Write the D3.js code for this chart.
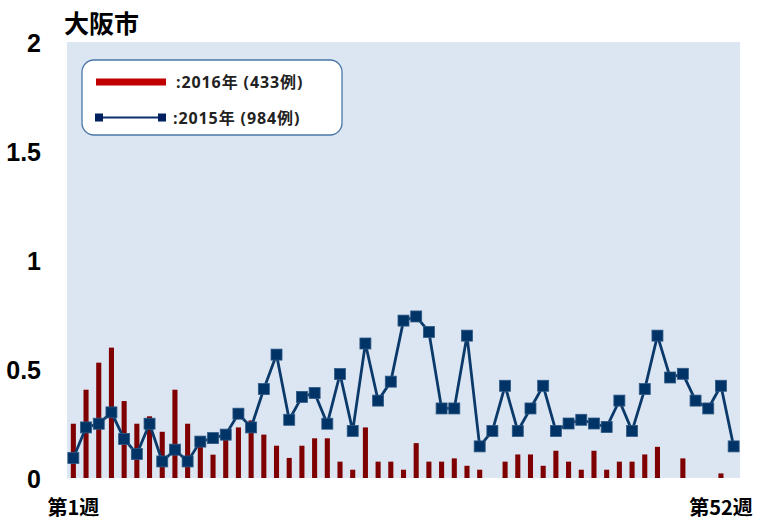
<!DOCTYPE html>
<html>
<head>
<meta charset="utf-8">
<script src="https://cdn.jsdelivr.net/npm/d3@7"></script>
<style>
  body { margin: 0; background: #fff; }
  svg { display: block; }
</style>
</head>
<body>
<svg id="chart"></svg>
<script>
const title = "大阪市";
const weeks = d3.range(1, 54);
const xLabels = {1: "第1週", 52: "第52週"};
const yTicks = [0, 0.5, 1, 1.5, 2];

// 2016 bars (week 1..53)
const cases2016 = [0.249, 0.405, 0.529, 0.598, 0.353, 0.249, 0.283, 0.212, 0.405, 0.249,
                   0.179, 0.107, 0.214, 0.232, 0.264, 0.199, 0.148, 0.092, 0.148, 0.182,
                   0.182, 0.075, 0.038, 0.232, 0.075, 0.075, 0.038, 0.160, 0.075, 0.075,
                   0.090, 0.056, 0.038, 0, 0.075, 0.108, 0.108, 0.056, 0.125, 0.075,
                   0.038, 0.125, 0.038, 0.075, 0.075, 0.108, 0.143, 0, 0.090, 0,
                   0, 0.021, 0];
// 2015 line
const cases2015 = [0.092, 0.232, 0.249, 0.301, 0.179, 0.110, 0.249, 0.076, 0.130, 0.076,
                   0.167, 0.183, 0.199, 0.295, 0.232, 0.408, 0.566, 0.267, 0.372, 0.390,
                   0.249, 0.477, 0.216, 0.617, 0.355, 0.442, 0.722, 0.741, 0.670, 0.319,
                   0.319, 0.653, 0.145, 0.216, 0.423, 0.216, 0.319, 0.423, 0.216, 0.250,
                   0.267, 0.250, 0.234, 0.355, 0.216, 0.408, 0.653, 0.461, 0.478, 0.355,
                   0.319, 0.423, 0.145];
const legendItems = [":2016年 (433例)", ":2015年 (984例)"];

const W = 758, H = 525;
const mLeft = 67, mRight = 740, mTop = 42, mBottom = 478;

const svg = d3.select("#chart").attr("width", W).attr("height", H);

const x = d3.scaleBand()
            .domain(weeks)
            .range([mLeft, mRight])
            .paddingInner(0.6)
            .paddingOuter(0.3);
const y = d3.scaleLinear().domain([0, 2]).range([mBottom, mTop]);
const cx = d => x(d) + x.bandwidth() / 2;

svg.append("rect")
   .attr("x", mLeft).attr("y", mTop)
   .attr("width", mRight - mLeft).attr("height", mBottom - mTop)
   .attr("fill", "#dce6f2");

svg.selectAll(".bar")
   .data(weeks.filter((w, i) => cases2016[i] > 0))
   .enter()
   .append("rect")
   .attr("class", "bar")
   .attr("x", d => x(d))
   .attr("width", x.bandwidth())
   .attr("y", d => y(cases2016[d - 1]))
   .attr("height", d => mBottom - y(cases2016[d - 1]))
   .attr("fill", "#7f0000");

const line = d3.line()
               .x((d, i) => cx(weeks[i]))
               .y(d => y(d));

svg.append("path")
   .datum(cases2015)
   .attr("d", line)
   .attr("fill", "none")
   .attr("stroke", "#0b3a6a")
   .attr("stroke-width", 2.8);

svg.selectAll(".pt")
   .data(cases2015)
   .enter()
   .append("rect")
   .attr("class", "pt")
   .attr("x", (d, i) => cx(weeks[i]) - 5.5)
   .attr("y", d => y(d) - 5.5)
   .attr("width", 11).attr("height", 11)
   .attr("fill", "#003366")
   .attr("stroke", "#2f5a86")
   .attr("stroke-width", 0.8);

// y axis
const yAxis = svg.append("g")
   .attr("transform", `translate(${mLeft - 23},0)`)
   .call(d3.axisLeft(y).tickValues(yTicks).tickSize(0).tickFormat(d3.format("~g")));
yAxis.select(".domain").remove();
yAxis.selectAll("text")
     .attr("font-family", "'Liberation Sans Narrow', 'Liberation Sans', sans-serif")
     .attr("font-weight", "bold")
     .attr("font-size", 25)
     .attr("fill", "#000")
     .attr("dy", "0.36em");

// x axis
const xAxis = svg.append("g")
   .attr("transform", `translate(0,${mBottom + 20})`)
   .call(d3.axisBottom(x).tickValues([1, 52]).tickSize(0).tickFormat(d => xLabels[d]));
xAxis.select(".domain").remove();
xAxis.selectAll("text")
     .attr("font-family", "'Noto Sans CJK JP', sans-serif")
     .attr("font-weight", "bold")
     .attr("font-size", 20)
     .attr("fill", "#000")
     .attr("dy", "0.7em");

svg.append("text")
   .attr("x", 64).attr("y", 33)
   .attr("font-family", "'Noto Sans CJK JP', sans-serif")
   .attr("font-weight", "bold")
   .attr("font-size", 25)
   .text(title);

// legend
const lg = svg.append("g");
lg.append("rect")
  .attr("x", 82).attr("y", 60)
  .attr("width", 260).attr("height", 75)
  .attr("rx", 12)
  .attr("fill", "#fff")
  .attr("stroke", "#4a76a8")
  .attr("stroke-width", 1.3);
lg.append("line")
  .attr("x1", 96).attr("x2", 166).attr("y1", 82).attr("y2", 82)
  .attr("stroke", "#c00000").attr("stroke-width", 7);
lg.append("line")
  .attr("x1", 99).attr("x2", 162).attr("y1", 117.5).attr("y2", 117.5)
  .attr("stroke", "#0b2f6a").attr("stroke-width", 2);
lg.selectAll(".lm")
  .data([99, 162])
  .enter()
  .append("rect")
  .attr("x", d => d - 4).attr("y", 113.5)
  .attr("width", 8).attr("height", 8)
  .attr("fill", "#002060");
lg.selectAll(".lt")
  .data(legendItems)
  .enter()
  .append("text")
  .attr("x", (d, i) => i === 0 ? 176 : 173)
  .attr("y", (d, i) => i === 0 ? 82 : 118)
  .attr("dy", "0.35em")
  .attr("font-family", "'Open Sans', 'Noto Sans CJK JP', sans-serif")
  .attr("font-weight", "bold")
  .attr("font-size", 16)
  .attr("letter-spacing", 0.9)
  .attr("fill", "#222")
  .text(d => d);
</script>
</body>
</html>
